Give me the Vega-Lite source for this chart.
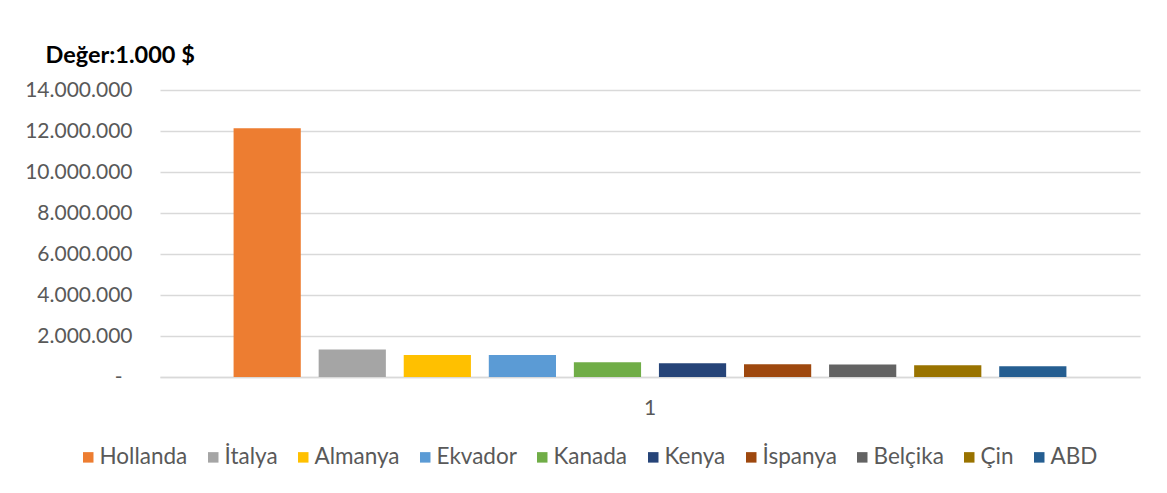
{
  "$schema": "https://vega.github.io/schema/vega-lite/v6.json",
  "autosize": "none",
  "width": 980,
  "height": 287,
  "padding": {"left": 160, "top": 90, "right": 27, "bottom": 116},
  "background": "white",
  "config": {
    "locale": {"number": {"decimal": ",", "thousands": ".", "grouping": [3], "currency": ["", " $"]}},
    "font": "Lato",
    "view": {"stroke": null}
  },
  "data": {
    "values": [
      {"grp": "1", "ulke": "Hollanda", "deger": 12140000},
      {"grp": "1", "ulke": "İtalya", "deger": 1345000},
      {"grp": "1", "ulke": "Almanya", "deger": 1075000},
      {"grp": "1", "ulke": "Ekvador", "deger": 1070000},
      {"grp": "1", "ulke": "Kanada", "deger": 720000},
      {"grp": "1", "ulke": "Kenya", "deger": 670000},
      {"grp": "1", "ulke": "İspanya", "deger": 620000},
      {"grp": "1", "ulke": "Belçika", "deger": 615000},
      {"grp": "1", "ulke": "Çin", "deger": 570000},
      {"grp": "1", "ulke": "ABD", "deger": 520000}
    ]
  },
  "mark": {"type": "bar"},
  "encoding": {
    "x": {
      "field": "grp",
      "type": "nominal",
      "scale": {"paddingInner": 0, "paddingOuter": 0.076},
      "axis": {
        "title": null,
        "labelAngle": 0,
        "labelFontSize": 21,
        "labelColor": "#595959",
        "labelPadding": 20,
        "ticks": false,
        "domainColor": "#D9D9D9",
        "domainWidth": 1.5
      }
    },
    "xOffset": {
      "field": "ulke",
      "type": "nominal",
      "sort": ["Hollanda", "İtalya", "Almanya", "Ekvador", "Kanada", "Kenya", "İspanya", "Belçika", "Çin", "ABD"],
      "scale": {"paddingInner": 0.21, "paddingOuter": 0.105}
    },
    "y": {
      "field": "deger",
      "type": "quantitative",
      "scale": {"domain": [0, 14000000]},
      "axis": {
        "values": [0, 2000000, 4000000, 6000000, 8000000, 10000000, 12000000, 14000000],
        "labelExpr": "datum.value === 0 ? '-' : format(datum.value, ',.0f')",
        "labelFontSize": 21,
        "labelColor": "#595959",
        "labelPadding": {"condition": {"test": "datum.value === 0", "value": 38}, "value": 28},
        "ticks": false,
        "domain": false,
        "gridColor": "#D9D9D9",
        "gridWidth": 1.5,
        "title": "Değer:1.000 $",
        "titleAngle": 0,
        "titleAlign": "left",
        "titleBaseline": "alphabetic",
        "titleX": -115,
        "titleY": -28,
        "titleFontSize": 23.5,
        "titleFontWeight": "bold",
        "titleColor": "#000000"
      }
    },
    "color": {
      "field": "ulke",
      "type": "nominal",
      "scale": {
        "domain": ["Hollanda", "İtalya", "Almanya", "Ekvador", "Kanada", "Kenya", "İspanya", "Belçika", "Çin", "ABD"],
        "range": ["#ED7D31", "#A5A5A5", "#FFC000", "#5B9BD5", "#70AD47", "#264478", "#9E480E", "#636363", "#997300", "#255E91"]
      },
      "legend": {
        "title": null,
        "orient": "none",
        "legendX": -83,
        "legendY": 356,
        "direction": "horizontal",
        "columns": 10,
        "columnPadding": 14,
        "symbolType": "square",
        "symbolSize": 110,
        "symbolStrokeWidth": 0,
        "symbolOpacity": 1,
        "labelFontSize": 22.5,
        "labelColor": "#595959",
        "labelOffset": 0
      }
    }
  }
}
